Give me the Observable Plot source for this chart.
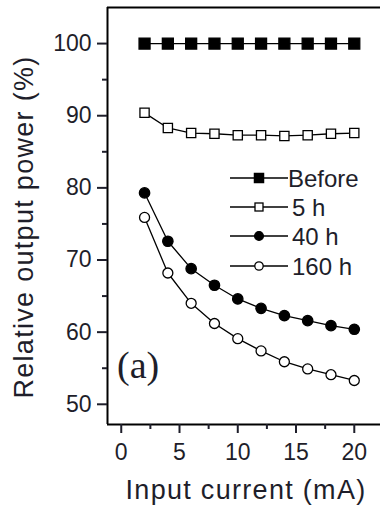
<!DOCTYPE html>
<html>
<head>
<meta charset="utf-8">
<script src="https://cdn.jsdelivr.net/npm/d3@7"></script>
<script src="https://cdn.jsdelivr.net/npm/@observablehq/plot@0.6"></script>
<style>
  html, body { margin: 0; padding: 0; background: #fff; }
  #chart svg { display: block; }
</style>
</head>
<body>
<div id="chart"></div>
<script>
// ---- data ----
const current = [2, 4, 6, 8, 10, 12, 14, 16, 18, 20];
const before = [100, 100, 100, 100, 100, 100, 100, 100, 100, 100];
const h5 = [90.4, 88.3, 87.6, 87.5, 87.3, 87.3, 87.2, 87.3, 87.5, 87.6];
const h40 = [79.3, 72.6, 68.8, 66.5, 64.6, 63.3, 62.3, 61.6, 60.9, 60.4];
const h160 = [75.9, 68.2, 64.0, 61.2, 59.1, 57.4, 55.9, 54.9, 54.1, 53.3];
const seriesNames = ["Before", "5 h", "40 h", "160 h"];
const xTicks = [0, 5, 10, 15, 20];
const xMinor = [2.5, 7.5, 12.5, 17.5];
const yTicks = [50, 60, 70, 80, 90, 100];
const yMinor = [55, 65, 75, 85, 95];
const xDomain = [-1.18, 22.25];
const yDomain = [47.2, 105];
const xTitle = "Input current (mA)";
const yTitle = "Relative output power (%)";
const panelLabel = "(a)";

const toRows = (vals) => current.map((x, i) => ({x, y: vals[i]}));
const series = [
  {name: seriesNames[0], rows: toRows(before), symbol: "square", fill: "black", r: 6.2, lr: 4.6},
  {name: seriesNames[1], rows: toRows(h5), symbol: "square", fill: "white", r: 5.2, lr: 4.0},
  {name: seriesNames[2], rows: toRows(h40), symbol: "circle", fill: "black", r: 5.2, lr: 4.4},
  {name: seriesNames[3], rows: toRows(h160), symbol: "circle", fill: "white", r: 5.0, lr: 4.2}
];

const font = "'Liberation Sans', Arial, sans-serif";
const ink = "#1e1e2a";

const marks = [];
// frame: left, top, bottom
marks.push(Plot.ruleX([xDomain[0]], {stroke: "black", strokeWidth: 2}));
marks.push(Plot.ruleY([yDomain[1]], {stroke: "black", strokeWidth: 2}));
marks.push(Plot.ruleY([yDomain[0]], {stroke: "black", strokeWidth: 2}));
// axes
marks.push(Plot.axisY(yTicks, {tickSize: 10, tickPadding: 6, strokeWidth: 2, fontSize: 23, fill: ink, label: null}));
marks.push(Plot.axisY(yMinor, {tickSize: 5, strokeWidth: 2, text: null, label: null}));
marks.push(Plot.axisX(xTicks, {tickSize: 9, tickPadding: 10, strokeWidth: 2, fontSize: 23, fill: ink, label: null}));
marks.push(Plot.axisX(xMinor, {tickSize: 5, strokeWidth: 2, text: null, label: null}));
// series
for (const s of series) {
  marks.push(Plot.line(s.rows, {x: "x", y: "y", stroke: "black", strokeWidth: 1.3}));
  marks.push(Plot.dot(s.rows, {x: "x", y: "y", symbol: s.symbol, r: s.r, fill: s.fill, stroke: "black", strokeWidth: 1.3}));
}

const chart = Plot.plot({
  width: 380,
  height: 510,
  marginLeft: 107,
  marginRight: 0,
  marginTop: 7,
  marginBottom: 86,
  style: {fontFamily: font, background: "white", color: ink},
  x: {domain: xDomain},
  y: {domain: yDomain},
  marks
});

const svg = d3.select(chart);
// axis titles
svg.append("text")
  .attr("x", 246).attr("y", 499)
  .attr("text-anchor", "middle")
  .attr("font-family", font).attr("font-size", 27)
  .attr("letter-spacing", "1.3px")
  .attr("fill", ink)
  .text(xTitle);
svg.append("text")
  .attr("transform", "translate(33,227) rotate(-90)")
  .attr("text-anchor", "middle")
  .attr("font-family", font).attr("font-size", 27)
  .attr("letter-spacing", "1.3px")
  .attr("fill", ink)
  .text(yTitle);
// panel label
svg.append("text")
  .attr("x", 117).attr("y", 378)
  .attr("text-anchor", "start")
  .attr("font-family", "'Liberation Serif', 'Times New Roman', serif")
  .attr("font-size", 38)
  .attr("fill", ink)
  .text(panelLabel);
// legend
const legendRows = [178, 207, 236, 266];
const lg = svg.append("g");
series.forEach((s, i) => {
  const y = legendRows[i];
  lg.append("line").attr("x1", 230).attr("x2", 288).attr("y1", y).attr("y2", y)
    .attr("stroke", "black").attr("stroke-width", 1.4);
  if (s.symbol === "square") {
    const side = s.lr * 2;
    lg.append("rect").attr("x", 259 - side / 2).attr("y", y - side / 2)
      .attr("width", side).attr("height", side)
      .attr("fill", s.fill).attr("stroke", "black").attr("stroke-width", 1.3);
  } else {
    lg.append("circle").attr("cx", 259).attr("cy", y).attr("r", s.lr)
      .attr("fill", s.fill).attr("stroke", "black").attr("stroke-width", 1.3);
  }
  lg.append("text").attr("x", i === 0 ? 288 : 292).attr("y", y).attr("dy", "0.36em")
    .attr("text-anchor", "start")
    .attr("font-family", font).attr("font-size", 24).attr("fill", ink)
    .text(s.name);
});

document.getElementById("chart").appendChild(chart);
</script>
</body>
</html>
